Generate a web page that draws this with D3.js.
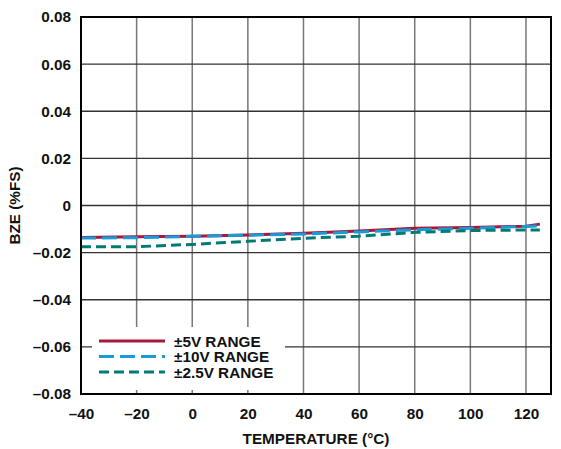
<!DOCTYPE html>
<html><head><meta charset="utf-8">
<script src="https://cdn.jsdelivr.net/npm/d3@7"></script>
<style>body{margin:0;background:#fff}</style>
</head><body>
<svg id="c" width="561" height="449"></svg>
<script>
const temps = [-40, -20, 0, 20, 40, 60, 80, 100, 120, 125];
const v5 = [-0.0136, -0.0133, -0.0130, -0.0125, -0.0118, -0.0108, -0.0097, -0.0093, -0.0088, -0.0079];
const v10 = [-0.0138, -0.0137, -0.0131, -0.0126, -0.0121, -0.0112, -0.0103, -0.0097, -0.0089, -0.0087];
const v25 = [-0.0175, -0.0175, -0.0165, -0.0152, -0.0139, -0.0130, -0.0114, -0.0106, -0.0104, -0.0104];
const xTicks = [-40, -20, 0, 20, 40, 60, 80, 100, 120];
const yTicks = [0.08, 0.06, 0.04, 0.02, 0, -0.02, -0.04, -0.06, -0.08];
const seriesNames = ["±5V RANGE", "±10V RANGE", "±2.5V RANGE"];
const colors = ["#A6193C", "#1A9AD6", "#007B73"];
const dashes = [null, "15,6", "10,5"];

const svg = d3.select("#c");
const L = 81, R = 551, T = 17, B = 394;
const x = d3.scaleLinear().domain([-40, 129]).range([L, R]);
const y = d3.scaleLinear().domain([-0.08, 0.08]).range([B, T]);
const font = "Arial, 'Liberation Sans', sans-serif";
const fs = 15.3;
const fmtY = d => d === 0 ? "0" : (d < 0 ? "–" : "") + Math.abs(d).toFixed(2);
const fmtX = d => (d < 0 ? "–" : "") + Math.abs(d);

// grid
svg.append("g").selectAll("line").data(xTicks.slice(1)).join("line")
  .attr("x1", d => x(d)).attr("x2", d => x(d)).attr("y1", T).attr("y2", B)
  .attr("stroke", "#777").attr("stroke-width", 1.5);
svg.append("g").selectAll("line").data(yTicks.slice(1, -1)).join("line")
  .attr("x1", L).attr("x2", R).attr("y1", d => y(d)).attr("y2", d => y(d))
  .attr("stroke", "#333").attr("stroke-width", 1.3);

// lines
const line = d3.line().x((d, i) => x(temps[i])).y(d => y(d));
[v5, v10, v25].forEach((s, k) => {
  svg.append("path").datum(s).attr("d", line).attr("fill", "none")
    .attr("stroke", colors[k]).attr("stroke-width", 3)
    .attr("stroke-dasharray", dashes[k]);
});

// legend
svg.append("rect").attr("x", 92).attr("y", 327).attr("width", 193).attr("height", 63).attr("fill", "#fff");
const lg = svg.append("g");
seriesNames.forEach((n, k) => {
  const yy = 341 + k * 15.5;
  lg.append("line").attr("x1", 99).attr("x2", 165).attr("y1", yy).attr("y2", yy)
    .attr("stroke", colors[k]).attr("stroke-width", 3).attr("stroke-dasharray", dashes[k]);
  lg.append("text").attr("x", 174).attr("y", yy + 5.5).text(n)
    .attr("font-family", font).attr("font-weight", "bold").attr("font-size", fs).attr("fill", "#111");
});

// frame
svg.append("rect").attr("x", L).attr("y", T).attr("width", R - L).attr("height", B - T)
  .attr("fill", "none").attr("stroke", "#000").attr("stroke-width", 2);

// axes
const xa = svg.append("g").attr("transform", `translate(0,${B})`)
  .call(d3.axisBottom(x).tickValues(xTicks).tickFormat(fmtX).tickSize(0).tickPadding(14));
const ya = svg.append("g").attr("transform", `translate(${L},0)`)
  .call(d3.axisLeft(y).tickValues(yTicks).tickFormat(fmtY).tickSize(0).tickPadding(10));
[xa, ya].forEach(a => {
  a.select(".domain").remove();
  a.selectAll("text").attr("font-family", font).attr("font-weight", "bold")
    .attr("font-size", fs).attr("fill", "#111");
});

svg.append("text").attr("x", 316).attr("y", 444).attr("text-anchor", "middle")
  .text("TEMPERATURE (°C)").attr("font-family", font).attr("font-weight", "bold")
  .attr("font-size", fs).attr("fill", "#111");
svg.append("text").attr("transform", `translate(20,${(T + B) / 2}) rotate(-90)`)
  .attr("text-anchor", "middle").text("BZE (%FS)").attr("font-family", font)
  .attr("font-weight", "bold").attr("font-size", fs).attr("fill", "#111");
</script>
</body></html>
